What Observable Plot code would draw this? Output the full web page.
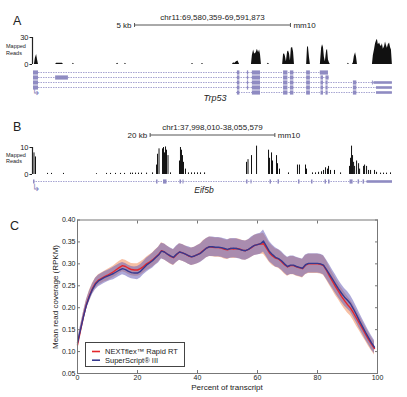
<!DOCTYPE html>
<html><head><meta charset="utf-8">
<script src="https://cdn.jsdelivr.net/npm/d3@7"></script>
<script src="https://cdn.jsdelivr.net/npm/@observablehq/plot@0.6"></script>
<style>
html,body{margin:0;padding:0;background:#fff;}
#fig{position:relative;width:407px;height:397px;overflow:hidden;background:#fff;}
</style></head><body><div id="fig"></div>
<script>
// ---------------- DATA ----------------
// Panel A: Trp53, chr11:69,580,359-69,591,873 (positions in kb from window start)
const titleA = "chr11:69,580,359-69,591,873";
const windowA = [0, 11.514];
const scaleBarA = {label: "5 kb", kb: 5, assembly: "mm10"};
const readTicksA = [0, 30];
const geneA = "Trp53";
const coverageA = [
  [0.00,0],[0.03,0],[0.06,7],[0.10,11],[0.13,5],[0.16,0],
  [0.71,0],[0.74,1.5],[0.93,1.5],[0.96,0],
  [1.25,0],[1.28,1.5],[1.31,0],
  [2.66,0],[2.70,1.5],[2.73,0],
  [2.92,0],[2.95,1.5],[2.98,0],
  [5.07,0],[5.10,1.5],[5.13,0],
  [5.39,0],[5.42,1.5],[5.45,0],
  [6.38,0],[6.42,2],[6.45,1],[6.51,3],[6.56,4],[6.61,0],
  [6.99,0],[7.02,10],[7.06,16],[7.09,12],[7.12,12],[7.15,14],[7.18,17],[7.22,13],[7.25,16],[7.28,11],[7.31,0],
  [7.50,0],[7.53,1.5],[7.57,0],
  [7.99,0],[8.02,11],[8.05,12],[8.08,9],[8.11,3],[8.15,14],[8.18,15],[8.21,12],[8.24,4],[8.27,18],[8.31,19],[8.34,14],[8.37,0],
  [8.76,0],[8.79,20],[8.82,19],[8.85,8],[8.88,0],
  [9.20,0],[9.24,18],[9.27,22],[9.30,19],[9.33,8],[9.36,3],[9.40,15],[9.43,17],[9.46,5],[9.49,2],[9.52,0],
  [10.07,0],[10.10,1.5],[10.13,0],
  [10.23,0],[10.26,2],[10.29,9],[10.33,13],[10.36,8],[10.39,0],
  [10.87,0],[10.90,10],[10.94,17],[10.97,23],[11.00,26],[11.03,28],[11.06,22],[11.10,24],[11.13,21],[11.16,20],[11.19,23],[11.22,17],[11.26,20],[11.29,25],[11.32,21],[11.35,18],[11.38,22],[11.42,24],[11.45,19],[11.48,16],[11.51,0]
];
// transcripts: [row, start, end]
const transcriptsA = [[1,0,9.46],[2,0,9.48],[3,0,11.51],[4,0,11.51],[5,6.51,11.51]];
// coding exons: [row, start, end]
const exonsA = [
  [1,0,0.16],[2,0,0.16],[3,0,0.16],[4,0,0.16],
  [2,0.71,1.12],
  [1,6.54,6.62],[2,6.54,6.62],[3,6.54,6.62],[4,6.54,6.62],[5,6.54,6.62],
  [1,6.86,6.90],[2,6.86,6.90],[3,6.86,6.90],[4,6.86,6.90],
  [1,7.02,7.28],[2,7.02,7.28],[3,7.02,7.28],[4,7.02,7.28],[5,7.02,7.28],
  [1,8.02,8.16],[2,8.02,8.16],[3,8.02,8.16],[4,8.02,8.16],[5,8.02,8.16],
  [1,8.24,8.35],[2,8.24,8.35],[3,8.24,8.35],[4,8.24,8.35],[5,8.24,8.35],
  [1,8.76,8.88],[2,8.76,8.88],[3,8.76,8.88],[4,8.76,8.88],[5,8.76,8.88],
  [1,9.20,9.46],
  [2,9.22,9.30],[3,9.22,9.30],[4,9.22,9.30],[5,9.22,9.30],
  [2,9.38,9.48],[3,9.38,9.45],[4,9.38,9.45],[5,9.38,9.45],
  [3,10.26,10.37],[4,10.26,10.37],[5,10.26,10.37],
  [3,10.87,10.90]
];
// untranslated exon parts: [row, start, end]
const utrA = [[3,10.92,11.51],[4,11.00,11.51],[5,11.00,11.51]];

// Panel B: Eif5b, chr1:37,998,010-38,055,579
const titleB = "chr1:37,998,010-38,055,579";
const windowB = [0, 57.569];
const scaleBarB = {label: "20 kb", kb: 20, assembly: "mm10"};
const readTicksB = [0, 10];
const geneB = "Eif5b";
const coverageB = [
  [0.08,8],[0.32,6.5],[2.25,0.4],[2.89,0.4],[4.81,0.4],[10.10,0.3],[11.71,0.4],[12.35,0.4],[13.15,0.4],
  [13.95,0.4],[14.60,0.4],[15.56,0.5],[15.88,0.5],[16.36,0.5],[16.84,0.5],[17.32,0.5],[18.13,0.5],[19.09,0.6],
  [19.73,3.5],[19.89,7.5],[20.13,9.5],[20.69,9.5],[20.85,10],[21.01,8],[21.17,10.2],[21.33,9],[21.57,7],[21.97,0.6],
  [23.41,5],[23.57,10],[23.73,9],[23.89,7],[24.05,4.5],[24.37,2],[24.85,0.6],[25.34,0.6],[25.82,0.6],[26.30,0.6],
  [26.78,0.6],[27.43,0.6],[34.16,4.5],[34.40,5.5],[34.96,7],[35.77,10.5],[37.69,9],[37.85,6],[38.17,8],[38.33,5],
  [38.97,7],[39.13,4],[39.45,2],[40.89,0.6],[42.33,3.5],[42.65,3.5],[43.62,3.5],[43.78,2],[44.74,0.6],[45.22,0.6],
  [45.71,0.8],[46.19,1],[46.51,1.5],[46.83,2.5],[47.15,2],[47.31,3],[47.63,1.5],[48.27,1.5],[49.24,0.6],
  [50.68,3],[50.84,6],[51.00,10.5],[51.16,7],[51.33,4.5],[51.49,3],[51.81,5],[52.13,4],[52.29,2],
  [52.93,3],[53.09,3.5],[53.41,3],[53.73,1.5],[54.05,1.5],[54.69,1.5],[55.01,0.8],[55.65,0.5],[56.13,0.5],[56.61,0.5],[57.25,0.6]
];
const transcriptsB = [[1,0,57.57]];
const exonsB = [
  [1,0,0.24],[1,19.73,19.97],[1,20.85,21.41],[1,23.49,23.73],[1,23.97,24.13],[1,34.16,34.40],[1,34.88,35.04],
  [1,37.93,38.17],[1,39.21,39.45],[1,42.49,42.73],[1,44.58,44.82],[1,46.75,46.99],[1,47.31,47.55],
  [1,50.76,51.25],[1,52.05,52.29],[1,52.85,53.09]
];
const utrB = [[1,53.49,57.57]];

// Panel C: mean read coverage along transcript
const percent = [0,1,2,3,4,5,6,7,8,9,10,11,12,13,14,15,16,17,18,19,20,21,22,23,24,25,26,27,28,29,30,31,32,33,34,35,36,37,38,39,40,41,42,43,44,45,46,47,48,49,50,51,52,53,54,55,56,57,58,59,60,61,62,63,64,65,66,67,68,69,70,71,72,73,74,75,76,77,78,79,80,81,82,83,84,85,86,87,88,89,90,91,92,93,94,95,96,97,98,99];
const seriesNames = ["NEXTflex™ Rapid RT", "SuperScript® III"];
const nextflexMean = [0.115,0.148,0.180,0.208,0.228,0.244,0.256,0.263,0.267,0.271,0.274,0.278,0.282,0.287,0.292,0.296,0.294,0.290,0.287,0.286,0.286,0.289,0.294,0.300,0.304,0.309,0.315,0.321,0.330,0.327,0.322,0.317,0.314,0.321,0.327,0.325,0.322,0.318,0.316,0.318,0.321,0.325,0.331,0.336,0.339,0.338,0.337,0.337,0.336,0.333,0.332,0.335,0.334,0.335,0.334,0.331,0.330,0.333,0.337,0.342,0.344,0.345,0.346,0.336,0.325,0.318,0.313,0.311,0.305,0.298,0.293,0.296,0.296,0.293,0.291,0.289,0.297,0.300,0.300,0.300,0.300,0.299,0.296,0.285,0.272,0.260,0.248,0.237,0.226,0.216,0.207,0.199,0.188,0.176,0.164,0.152,0.140,0.128,0.117,0.107];
const superscriptMean = [0.120,0.150,0.180,0.207,0.226,0.242,0.254,0.261,0.265,0.269,0.272,0.275,0.278,0.282,0.286,0.289,0.287,0.283,0.280,0.279,0.279,0.283,0.290,0.297,0.302,0.307,0.314,0.320,0.329,0.327,0.322,0.318,0.315,0.322,0.327,0.325,0.322,0.319,0.316,0.318,0.321,0.324,0.330,0.336,0.339,0.339,0.338,0.338,0.337,0.335,0.333,0.335,0.336,0.335,0.333,0.331,0.330,0.333,0.338,0.342,0.344,0.346,0.352,0.340,0.328,0.321,0.315,0.312,0.307,0.300,0.294,0.297,0.297,0.294,0.292,0.290,0.298,0.301,0.301,0.301,0.301,0.300,0.297,0.287,0.276,0.265,0.254,0.243,0.233,0.224,0.217,0.209,0.197,0.184,0.170,0.157,0.144,0.132,0.120,0.110];
const nextflexErr = [0.007,0.009,0.010,0.011,0.012,0.012,0.012,0.012,0.012,0.012,0.013,0.013,0.013,0.014,0.014,0.014,0.014,0.014,0.014,0.014,0.014,0.015,0.015,0.015,0.016,0.016,0.017,0.017,0.018,0.018,0.018,0.018,0.018,0.018,0.019,0.019,0.019,0.019,0.020,0.020,0.021,0.021,0.022,0.022,0.022,0.022,0.022,0.022,0.022,0.022,0.022,0.022,0.022,0.022,0.022,0.022,0.022,0.022,0.022,0.023,0.023,0.023,0.024,0.023,0.022,0.022,0.021,0.021,0.021,0.021,0.021,0.021,0.021,0.021,0.021,0.021,0.022,0.022,0.022,0.022,0.022,0.022,0.022,0.022,0.021,0.020,0.020,0.019,0.019,0.019,0.019,0.018,0.018,0.018,0.017,0.017,0.016,0.016,0.015,0.015];
const superscriptErr = [0.007,0.009,0.010,0.011,0.012,0.012,0.013,0.013,0.013,0.013,0.013,0.013,0.014,0.014,0.014,0.014,0.014,0.014,0.014,0.014,0.015,0.015,0.015,0.016,0.016,0.017,0.017,0.018,0.018,0.018,0.018,0.018,0.018,0.019,0.019,0.019,0.019,0.020,0.020,0.020,0.021,0.021,0.022,0.022,0.022,0.022,0.022,0.022,0.022,0.022,0.022,0.022,0.022,0.022,0.022,0.022,0.022,0.022,0.023,0.023,0.024,0.024,0.025,0.024,0.023,0.022,0.022,0.021,0.021,0.021,0.021,0.021,0.021,0.021,0.021,0.021,0.022,0.022,0.022,0.022,0.022,0.022,0.022,0.022,0.022,0.021,0.021,0.020,0.020,0.020,0.020,0.019,0.019,0.018,0.018,0.017,0.017,0.016,0.016,0.015];
const xTicksC = [0, 20, 40, 60, 80, 100];
const yTicksC = [0.05, 0.10, 0.15, 0.20, 0.25, 0.30, 0.35, 0.40];
const xLabelC = "Percent of transcript";
const yLabelC = "Mean read coverage (RPKM)";

// ---------------- STYLE ----------------
const FONT = '"Liberation Sans", Arial, Helvetica, sans-serif';
const exonColor = "#8f8bc2";
const intronColor = "#a7a5d2";
const lineColors = ["#e3262c", "#36398f"];
const bandColors = ["#f08c5a", "#6a60b8"];
const bandOpacity = 0.55;

const fig = document.getElementById("fig");
function place(el, top) {
  el.style.position = "absolute"; el.style.left = "0px"; el.style.top = top + "px";
  fig.appendChild(el); return el;
}
const baseStyle = {fontFamily: FONT, background: "transparent", color: "#222", overflow: "visible"};

function coveragePlot(data, win, ticks, kind) {
  const marks = [];
  if (kind === "area") marks.push(Plot.areaY(data, {x: d => d[0], y: d => d[1], fill: "#111", curve: "linear"}));
  else marks.push(Plot.ruleX(data, {x: d => d[0], y: d => d[1], stroke: "#111", strokeWidth: 1}));
  marks.push(Plot.ruleX([win[0]], {y1: ticks[0], y2: ticks[1], dx: -1, stroke: "#222", strokeWidth: 1.2}));
  marks.push(Plot.axisY({ticks, tickSize: 2.5, tickPadding: 1.5, dx: -1, label: null, fontSize: 7.5, tickFormat: d => d}));
  return Plot.plot({
    width: 407, height: 40, marginTop: 7, marginBottom: 6, marginLeft: 33, marginRight: 15,
    style: {...baseStyle, fontSize: "7.5px"},
    x: {domain: win, axis: null},
    y: {domain: ticks},
    marks
  });
}
function genePlot(tx, exons, utr, win, rows, height, mt, mb) {
  const gx1 = d => d[1], gx2 = d => d[2], gy = d => d[0];
  return Plot.plot({
    width: 407, height, marginTop: mt, marginBottom: mb, marginLeft: 33, marginRight: 15,
    style: baseStyle,
    x: {domain: win, axis: null},
    y: {domain: rows, reverse: true, axis: null},
    marks: [
      Plot.ruleY(tx, {y: gy, x1: gx1, x2: gx2, stroke: intronColor, strokeWidth: 1, strokeDasharray: "1.5,1"}),
      Plot.ruleY(utr, {y: gy, x1: gx1, x2: gx2, stroke: exonColor, strokeWidth: 2.6}),
      Plot.ruleY(exons, {y: gy, x1: gx1, x2: gx2, stroke: exonColor, strokeWidth: 4.2})
    ]
  });
}

const covA = place(coveragePlot(coverageA, windowA, readTicksA, "area"), 30);
const genA = place(genePlot(transcriptsA, exonsA, utrA, windowA, [1, 5], 36, 6, 10), 66);
const covB = place(coveragePlot(coverageB, windowB, readTicksB, "rule"), 140);
const genB = place(genePlot(transcriptsB, exonsB, utrB, windowB, [0.5, 1.5], 12, 0, 0), 175);

// Panel C
const tables = seriesNames.map((name, s) => {
  const mean = s === 0 ? nextflexMean : superscriptMean;
  const err = s === 0 ? nextflexErr : superscriptErr;
  return percent.map((p, i) => ({p, mean: mean[i], lo: mean[i] - err[i], hi: mean[i] + err[i]}));
});
const plotC = Plot.plot({
  width: 407, height: 190, marginTop: 12.5, marginBottom: 24, marginLeft: 77, marginRight: 30,
  style: {...baseStyle, fontSize: "7px"},
  x: {domain: [0, 100]},
  y: {domain: [0.05, 0.40]},
  marks: [
    ...tables.map((t, s) => Plot.areaY(t, {x: "p", y1: "lo", y2: "hi", fill: bandColors[s], fillOpacity: bandOpacity})),
    ...tables.map((t, s) => Plot.lineY(t, {x: "p", y: "mean", stroke: lineColors[s], strokeWidth: 1.4})),
    Plot.frame({stroke: "#777"}),
    Plot.axisX({ticks: xTicksC, tickSize: -3, tickPadding: 5, label: null, tickFormat: d => d, stroke: "#777"}),
    Plot.axisX({anchor: "top", ticks: xTicksC, tickSize: -3, label: null, tickFormat: () => "", stroke: "#777"}),
    Plot.axisY({ticks: yTicksC, tickSize: -3, tickPadding: 5, label: null, tickFormat: ".2f", stroke: "#777"}),
    Plot.axisY({anchor: "right", ticks: yTicksC, tickSize: -3, label: null, tickFormat: () => "", stroke: "#777"})
  ]
});
place(plotC, 207);

// ---------------- OVERLAY TEXT ----------------
const ov = d3.create("svg").attr("width", 407).attr("height", 397)
  .style("position", "absolute").style("left", "0px").style("top", "0px")
  .style("font-family", FONT);
fig.appendChild(ov.node());
function txt(s, x, y, size, anchor = "start", opts = {}) {
  const t = ov.append("text").attr("x", x).attr("y", y).attr("font-size", size)
    .attr("text-anchor", anchor).attr("dominant-baseline", "central")
    .attr("fill", opts.fill || "#222").text(s);
  if (opts.italic) t.attr("font-style", "italic");
  if (opts.rotate) t.attr("transform", `rotate(${opts.rotate},${x},${y})`);
  return t;
}
function xpx(plot, v) {
  const sc = plot.scale("x");
  if (sc.apply) return sc.apply(v);
  const [d0, d1] = sc.domain, [r0, r1] = sc.range;
  return r0 + (v - d0) / (d1 - d0) * (r1 - r0);
}
function scaleBar(plot, win, bar, y) {
  const c = (win[0] + win[1]) / 2;
  const x1 = xpx(plot, c - bar.kb / 2), x2 = xpx(plot, c + bar.kb / 2);
  ov.append("line").attr("x1", x1).attr("x2", x2).attr("y1", y).attr("y2", y).attr("stroke", "#555");
  ov.append("line").attr("x1", x1).attr("x2", x1).attr("y1", y - 2).attr("y2", y + 2).attr("stroke", "#555");
  ov.append("line").attr("x1", x2).attr("x2", x2).attr("y1", y - 2).attr("y2", y + 2).attr("stroke", "#555");
  txt(bar.label, x1 - 3, y, 8, "end");
  txt(bar.assembly, x2 + 3, y, 8, "start");
}
// Panel A
txt("A", 13, 20.5, 12.5);
txt(titleA, 212.5, 17, 8, "middle");
scaleBar(covA, windowA, scaleBarA, 25);
txt("Mapped", 6, 46, 5.5);
txt("Reads", 6, 52.5, 5.5);
txt("↳", 31.5, 91, 10, "start", {fill: exonColor});
txt(geneA, 215, 97.5, 9, "middle", {italic: true});
// Panel B
txt("B", 13, 127, 12.5);
txt(titleB, 212.5, 127, 8, "middle");
scaleBar(covB, windowB, scaleBarB, 135);
txt("Mapped", 6, 155, 5.5);
txt("Reads", 6, 161, 5.5);
txt("↳", 31.5, 187, 10, "start", {fill: exonColor});
txt(geneB, 204, 190, 8.5, "middle", {italic: true});
// Panel C
txt("C", 10, 226, 12.5);
txt(xLabelC, 227, 387, 8, "middle");
txt(yLabelC, 55, 297, 8, "middle", {rotate: -90});
// legend
ov.append("rect").attr("x", 85.5).attr("y", 342.5).attr("width", 99).attr("height", 24)
  .attr("fill", "#fff").attr("stroke", "#444").attr("stroke-width", 1);
seriesNames.forEach((name, s) => {
  const y = 351.5 + s * 8.7;
  ov.append("line").attr("x1", 92).attr("x2", 100).attr("y1", y).attr("y2", y)
    .attr("stroke", lineColors[s]).attr("stroke-width", 1.6);
  txt(name, 105, y, 7.5);
});
</script></body></html>
